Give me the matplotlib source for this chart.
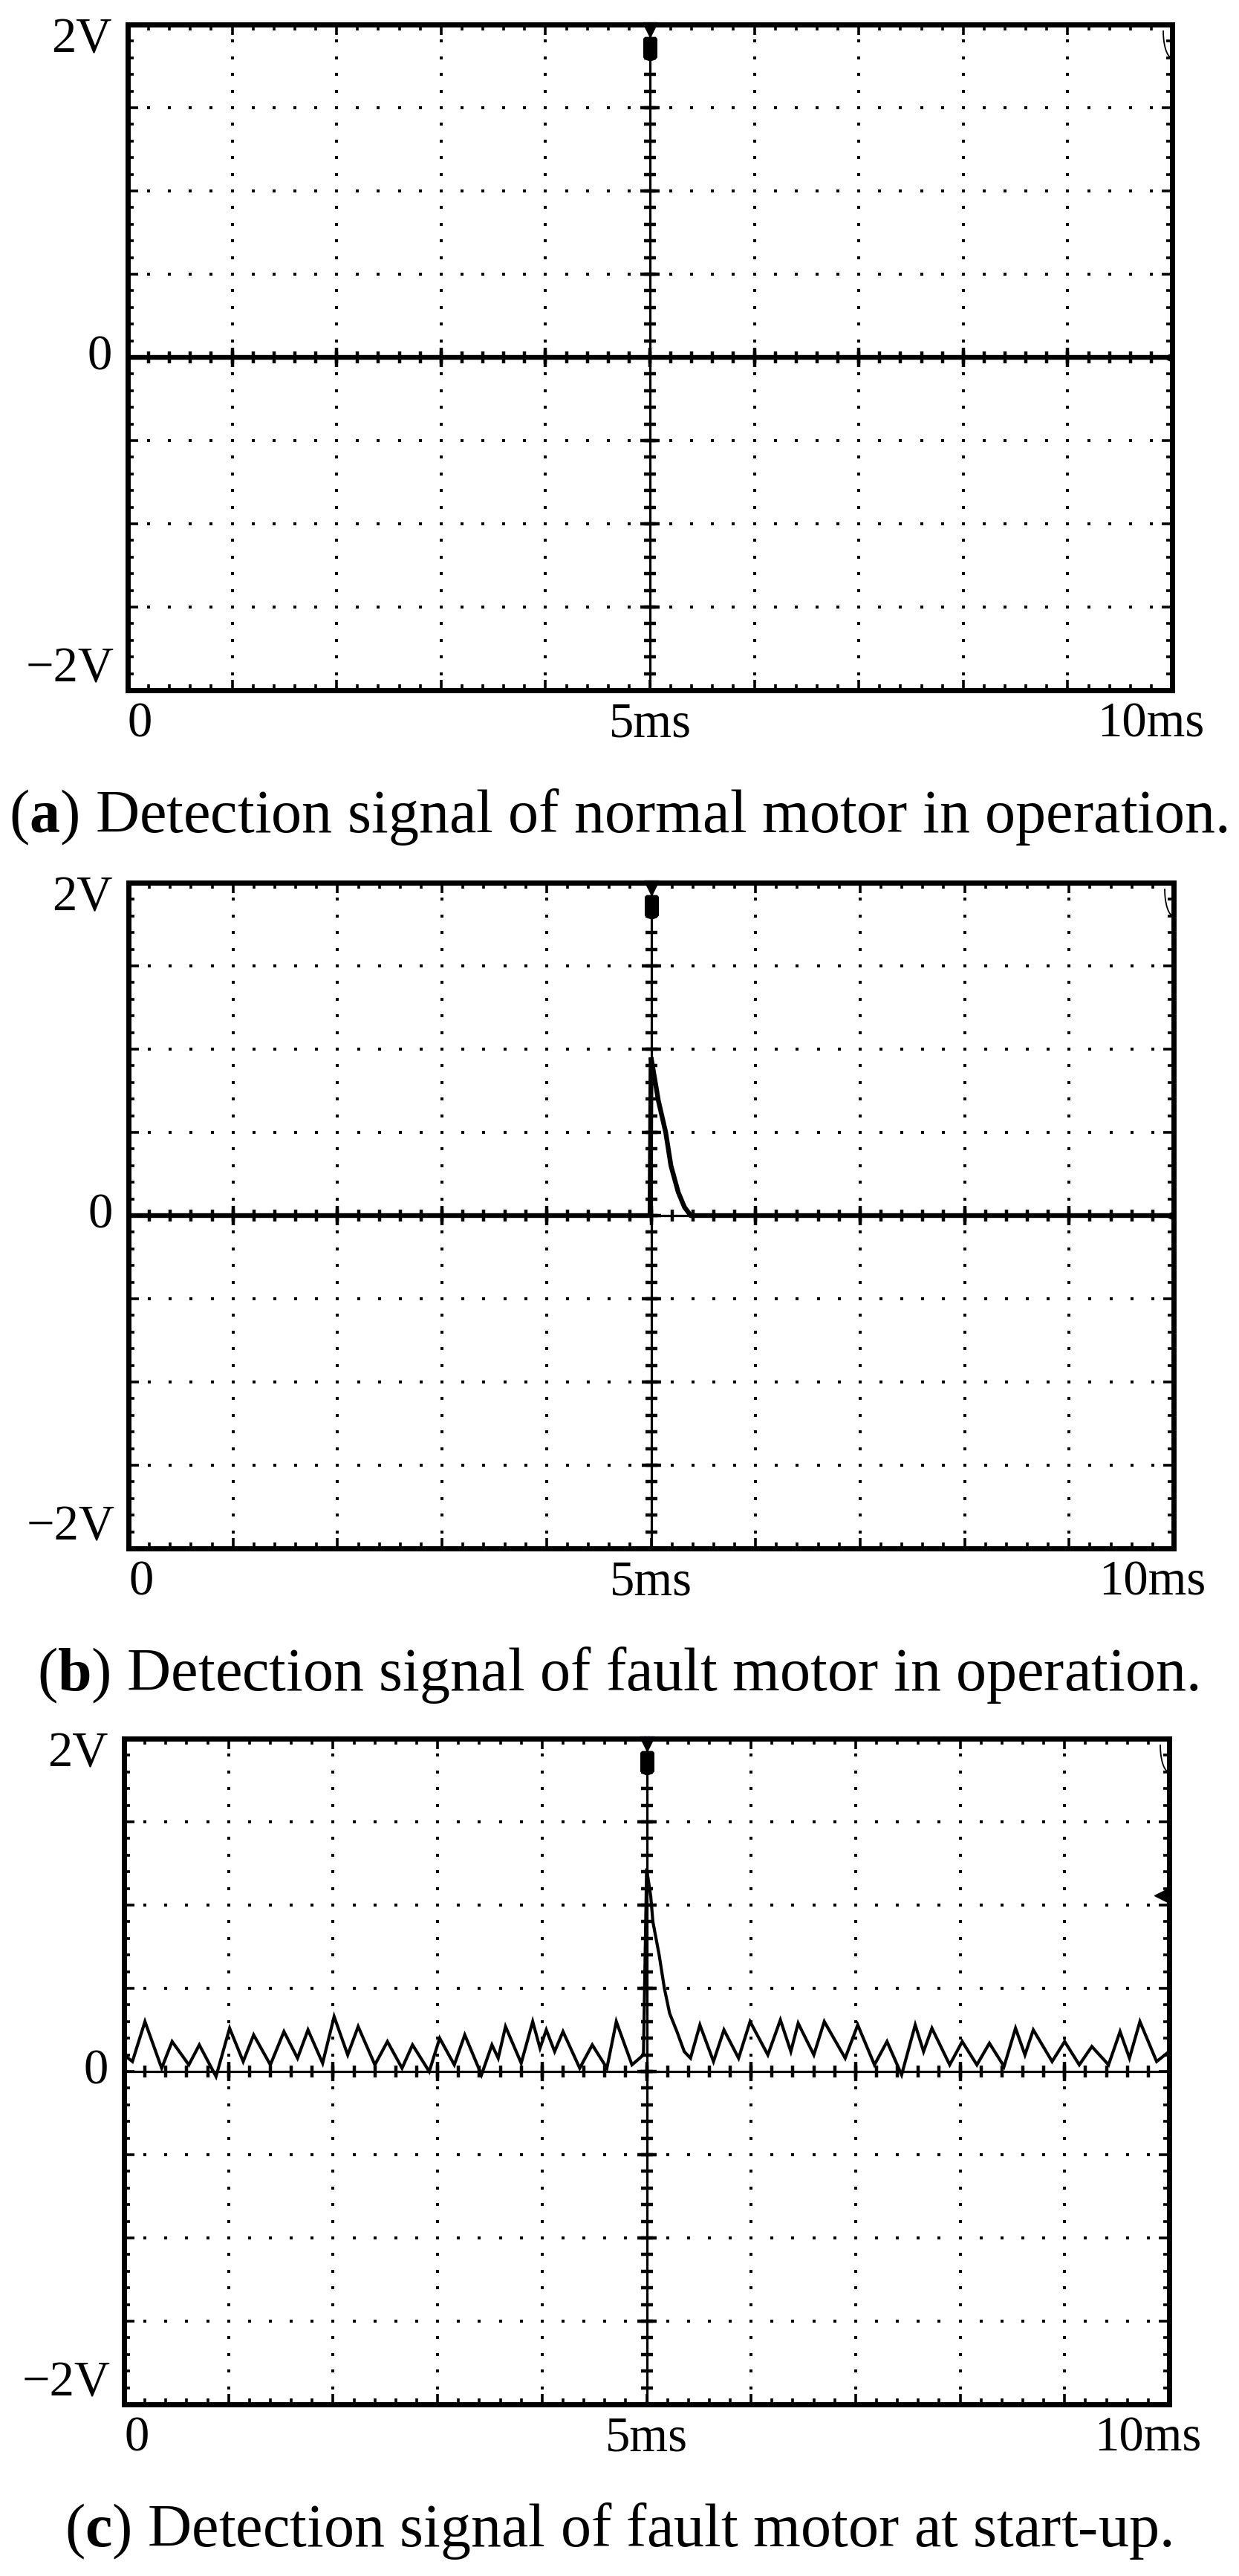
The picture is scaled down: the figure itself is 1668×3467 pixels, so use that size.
import numpy as np
import matplotlib.pyplot as plt

plt.rcParams['font.family'] = ['Liberation Serif', 'DejaVu Serif']
plt.rcParams['mathtext.fontset'] = 'custom'
plt.rcParams['mathtext.rm'] = 'Liberation Serif'
plt.rcParams['mathtext.bf'] = 'Liberation Serif:bold'

W, H, DPI = 1668, 3467, 100

# screen: 10 div x 1 ms, 8 div x 0.5 V
x_labels = ['0', '5ms', '10ms']
y_labels = ['2V', '0', '\u22122V']
captions = [r'($\mathbf{a}$) Detection signal of normal motor in operation.',
            r'($\mathbf{b}$) Detection signal of fault motor in operation.',
            r'($\mathbf{c}$) Detection signal of fault motor at start-up.']

# (a) normal motor: flat trace
a_t = [0.0, 10.0]
a_v = [0.0, 0.0]

# (b) fault motor in operation: single decaying pulse at the trigger
b_t = [0.0, 4.99, 5.00, 5.03, 5.07, 5.14, 5.19, 5.26, 5.32, 5.38, 10.0]
b_v = [0.0, 0.0, 0.95, 0.84, 0.69, 0.50, 0.30, 0.14, 0.05, 0.0, 0.0]

# (c) fault motor at start-up: ripple plus pulse
c_t = [0.00, 0.08, 0.20, 0.36, 0.46, 0.62, 0.72, 0.88, 1.01, 1.14, 1.24, 1.40,
       1.53, 1.66, 1.76, 1.90, 2.01, 2.14, 2.24, 2.40, 2.52, 2.66, 2.76, 2.92,
       3.02, 3.16, 3.26, 3.42, 3.52, 3.58, 3.65, 3.80, 3.91, 3.98, 4.04, 4.12,
       4.20, 4.36, 4.48, 4.62, 4.71, 4.86, 4.97,
       5.00, 5.04, 5.06, 5.12, 5.17, 5.22, 5.29, 5.36, 5.42,
       5.51, 5.64, 5.74, 5.88, 5.99, 6.16, 6.28, 6.38, 6.45, 6.60, 6.70, 6.90,
       7.02, 7.18, 7.30, 7.44, 7.57, 7.65, 7.73, 7.90, 8.02, 8.16, 8.28, 8.42,
       8.53, 8.62, 8.70, 8.88, 9.00, 9.14, 9.26, 9.42, 9.53, 9.62, 9.72, 9.88, 10.0]
c_v = [0.10, 0.06, 0.30, 0.02, 0.18, 0.04, 0.16, -0.03, 0.26, 0.06, 0.22, 0.04,
       0.24, 0.08, 0.25, 0.05, 0.33, 0.10, 0.27, 0.04, 0.18, 0.02, 0.16, 0.00,
       0.20, 0.04, 0.22, -0.02, 0.16, 0.08, 0.27, 0.05, 0.30, 0.14, 0.25, 0.12,
       0.24, 0.02, 0.16, 0.02, 0.30, 0.04, 0.10,
       1.22, 1.05, 0.90, 0.70, 0.50, 0.35, 0.24, 0.12, 0.08,
       0.28, 0.06, 0.25, 0.08, 0.30, 0.10, 0.31, 0.12, 0.29, 0.10, 0.30, 0.08,
       0.28, 0.04, 0.18, -0.02, 0.28, 0.12, 0.26, 0.04, 0.18, 0.04, 0.17, 0.03,
       0.26, 0.10, 0.25, 0.06, 0.18, 0.04, 0.15, 0.04, 0.24, 0.08, 0.30, 0.06, 0.12]

traces = [(a_t, a_v), (b_t, b_v), (c_t, c_v)]
# panel boxes in pixels: left, top, right, bottom
boxes = [(172, 33, 1578, 929), (173, 1188, 1580, 2084), (167, 2340, 1574, 3236)]
ref_level = [0.0, 0.0, 1.06]

fig = plt.figure(figsize=(W / DPI, H / DPI), dpi=DPI)

xmaj = np.arange(0, 10.01, 1.0)
xmin = np.arange(0, 10.01, 0.2)
ymaj = np.arange(-2, 2.01, 0.5)
ymin = np.arange(-2, 2.01, 0.1)

trig = [(-0.45, 1.0), (0.45, 1.0), (0.6, 0.85), (0.6, -0.75), (0.4, -0.95),
        (0.1, -1.05), (-0.1, -1.05), (-0.4, -0.95), (-0.6, -0.75), (-0.6, 0.85)]

cap_texts = []
for i, ((t, v), (l, tp, r, b)) in enumerate(zip(traces, boxes)):
    ax = fig.add_axes([l / W, 1 - b / H, (r - l) / W, (b - tp) / H])
    ax.set_xlim(0, 10)
    ax.set_ylim(-2, 2)
    for s in ax.spines.values():
        s.set_linewidth(5)
    ax.set_xticks(xmaj)
    ax.set_xticks(xmin, minor=True)
    ax.set_yticks(ymaj)
    ax.set_yticks(ymin, minor=True)
    ax.tick_params(which='both', direction='in', top=True, right=True,
                   labelbottom=False, labelleft=False, width=2.6)
    ax.tick_params(which='major', length=10)
    ax.tick_params(which='minor', length=6)

    # dotted graticule
    gx = [x for x in xmaj[1:-1] if x != 5]
    gy = [y for y in ymaj[1:-1] if y != 0]
    X1, Y1 = np.meshgrid(gx, ymin[1:-1])
    X2, Y2 = np.meshgrid(xmin[1:-1], gy)
    ax.plot(X1.ravel(), Y1.ravel(), 's', ms=3.1, color='black', mew=0)
    ax.plot(X2.ravel(), Y2.ravel(), 's', ms=3.1, color='black', mew=0)

    # centre cross with ticks
    ax.axvline(5, color='black', lw=2.3)
    ax.axhline(0, color='black', lw=2.3)
    ax.plot(np.full(len(ymin), 5.0), ymin, '_', ms=11, mew=3.2, color='black')
    ax.plot(np.full(len(ymaj), 5.0), ymaj, '_', ms=19, mew=3.2, color='black')
    ax.plot(xmin, np.zeros(len(xmin)), '|', ms=11, mew=3.2, color='black')
    ax.plot(xmaj, np.zeros(len(xmaj)), '|', ms=19, mew=3.2, color='black')

    # trace
    ax.plot(t, v, color='black', lw=4.6 if i < 2 else 3.0, solid_joinstyle='miter')

    # trigger markers
    ax.plot([5], [1.97], 'v', ms=14, color='black', clip_on=False)
    ax.plot([5], [1.855], marker=trig, ms=24, color='black', mew=0)
    if i == 2:
        ax.plot([5, 5], [2, -2], 'x', ms=5, mew=1.2, color='#3344ff', clip_on=False)
        ax.plot([9.92], [ref_level[i]], '<', ms=13, color='black', clip_on=False)
    else:
        ax.plot([9.96], [ref_level[i]], '<', ms=8, color='black', clip_on=False)

    # corner arc
    th = np.linspace(np.pi, 1.5 * np.pi, 30)
    ax.plot(10 + 0.085 * np.cos(th), 1.96 + 0.16 * np.sin(th),
            color='black', lw=1.3, clip_on=False)

    # axis labels
    fs = 48
    ax.text(-0.015, 1.0 - 21 / 896, y_labels[0], transform=ax.transAxes,
            ha='right', va='center', fontsize=fs)
    ax.text(-0.015, 0.5, y_labels[1], transform=ax.transAxes,
            ha='right', va='center', fontsize=fs)
    ax.text(-0.013, 28 / 896, y_labels[2], transform=ax.transAxes,
            ha='right', va='center', fontsize=fs)
    ax.text(0.0, -46 / 896, x_labels[0], transform=ax.transAxes,
            ha='left', va='center', fontsize=fs)
    ax.text(0.5, -46 / 896, x_labels[1], transform=ax.transAxes,
            ha='center', va='center', fontsize=fs)
    ax.text(1.031, -46 / 896, x_labels[2], transform=ax.transAxes,
            ha='right', va='center', fontsize=fs)

    cap_texts.append(fig.text(832 / W, 1 - (tp + 1087) / H, captions[i],
                              ha='center', va='baseline', fontsize=60))

# fit caption size to the width of caption (a)
fig.canvas.draw()
wa = cap_texts[0].get_window_extent().width
size = 60 * 1642 / wa
for c in cap_texts:
    c.set_fontsize(size)

fig.savefig('out.png', dpi=DPI)
